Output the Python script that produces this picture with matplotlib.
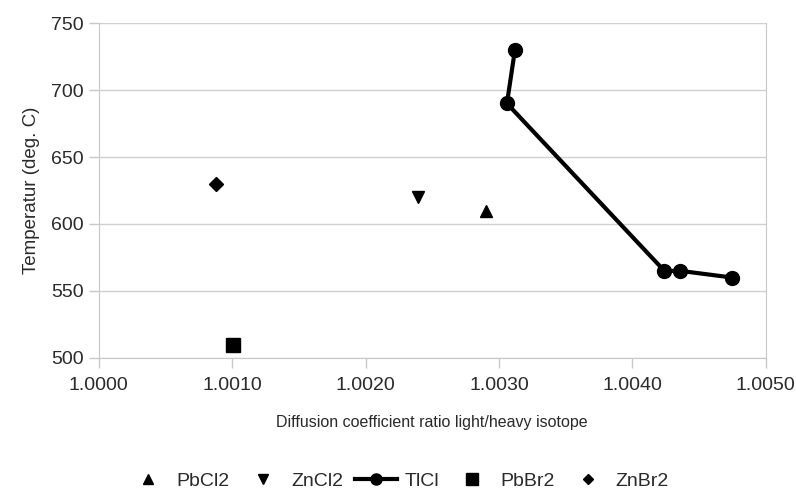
import matplotlib
matplotlib.use("Agg")
import matplotlib.pyplot as plt
from matplotlib.ticker import FormatStrFormatter, MultipleLocator

plt.rcParams['font.family'] = ['Liberation Sans', 'DejaVu Sans']

pbcl2_x = [1.00290]
pbcl2_y = [610]
zncl2_x = [1.00239]
zncl2_y = [620]
tlcl_x = [1.00312, 1.00306, 1.00424, 1.00436, 1.00475]
tlcl_y = [730, 690, 565, 565, 560]
pbbr2_x = [1.00101]
pbbr2_y = [510]
znbr2_x = [1.00088]
znbr2_y = [630]

fig = plt.figure(figsize=(7.96, 4.91), dpi=100)
ax = fig.add_axes([0.124, 0.271, 0.838, 0.682])

txt = '#2a2a2a'
ax.plot(pbcl2_x, pbcl2_y, linestyle='none', marker='^', color='black', markersize=9, label='PbCl2')
ax.plot(zncl2_x, zncl2_y, linestyle='none', marker='v', color='black', markersize=9, label='ZnCl2')
ax.plot(tlcl_x, tlcl_y, linestyle='-', linewidth=3, marker='o', color='black', markersize=10, label='TlCl')
ax.plot(pbbr2_x, pbbr2_y, linestyle='none', marker='s', color='black', markersize=10, label='PbBr2')
ax.plot(znbr2_x, znbr2_y, linestyle='none', marker='D', color='black', markersize=7, label='ZnBr2')

ax.set_xlim(1.0, 1.005)
ax.set_ylim(500, 750)
ax.xaxis.set_major_locator(MultipleLocator(0.001))
ax.yaxis.set_major_locator(MultipleLocator(50))
ax.xaxis.set_major_formatter(FormatStrFormatter('%.4f'))
ax.grid(axis='y', color='#d0d0d0', linewidth=1)
ax.set_axisbelow(True)
for s in ['left', 'bottom', 'right']:
    ax.spines[s].set_color('#c8c8c8')
ax.spines['top'].set_visible(False)
ax.tick_params(axis='both', colors='#c8c8c8', labelcolor=txt, labelsize=14, length=7, width=1)
ax.tick_params(axis='x', pad=7)
ax.tick_params(axis='y', pad=4)

ax.set_xlabel('Diffusion coefficient ratio light/heavy isotope', fontsize=11.5, color=txt, labelpad=15)
ax.set_ylabel('Temperatur (deg. C)', fontsize=13.5, color=txt, labelpad=8)

leg = fig.legend(loc='center', bbox_to_anchor=(0.5, 1 - 481 / 491), ncol=5, frameon=False,
                 fontsize=14, handlelength=2.2, columnspacing=0.6, handletextpad=0.35, markerscale=0.8)
for t in leg.get_texts():
    t.set_color(txt)

fig.savefig('out.png', dpi=100)
